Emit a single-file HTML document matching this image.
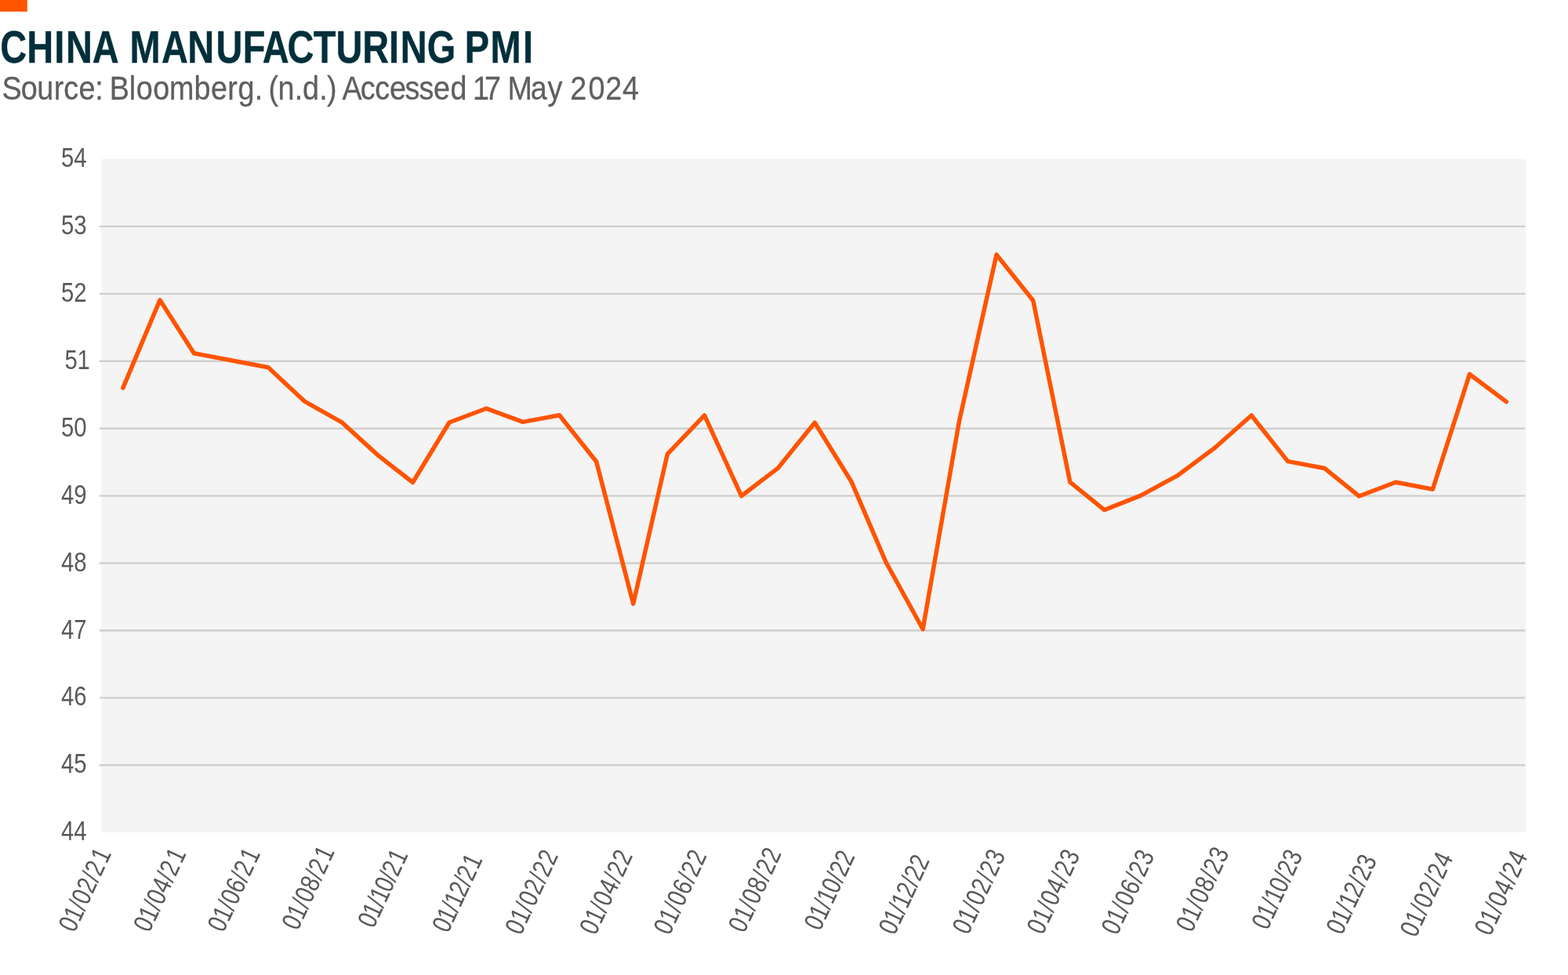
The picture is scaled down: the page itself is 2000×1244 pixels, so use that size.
<!DOCTYPE html>
<html lang="en">
<head>
<meta charset="utf-8">
<title>China Manufacturing PMI</title>
<style>
html,body{margin:0;padding:0;background:#fff;}
body{width:2000px;height:1244px;overflow:hidden;}
svg{display:block;}
text{font-family:"Liberation Sans",sans-serif;}
.title{font-weight:bold;fill:#012f3a;stroke:#012f3a;stroke-width:0.4px;stroke-linejoin:round;}
.sub{fill:#5f5f5f;stroke:#5f5f5f;stroke-width:0.3px;stroke-linejoin:round;}
.lab{fill:#595959;}
</style>
</head>
<body>
<svg width="2000" height="1244" viewBox="0 0 2000 1244">
<desc>CHINA MANUFACTURING PMI. Source: Bloomberg. (n.d.) Accessed 17 May 2024</desc>
<rect x="0" y="0" width="2000" height="1244" fill="#ffffff"/>
<rect x="0" y="0" width="34.8" height="14.8" fill="#ff5400"/>
<text class="title" font-size="58.1" xml:space="preserve" transform="translate(0,79.55) scale(0.8081,1)" x="0.28 42.27 85.79 104.02 145.81 187.77 204.68 254.89 296.19 340.88 383.17 414.39 453.68 494.79 530.33 571.89 613.68 632.03 674.19 719.39 733.40 774.19 825.47" y="0">CHINA MANUFACTURING PMI</text>
<text class="sub" font-size="43.2" xml:space="preserve" transform="translate(0,126.65) scale(0.8732,1)" x="2.95 30.73 54.21 78.74 93.01 114.98 138.93 150.93 160.16 188.68 198.97 223.62 247.24 283.55 308.01 332.42 347.48 372.02 384.02 392.26 405.98 430.23 442.00 466.53 477.49 491.88 499.81 526.55 547.74 569.13 591.50 612.00 633.38 657.88 681.90 690.65 707.76 731.79 741.49 775.01 799.92 821.52 832.90 859.36 884.44 909.37" y="0">Source: Bloomberg. (n.d.) Accessed 17 May 2024</text>
<rect x="129.2" y="202.8" width="1817.20" height="859.20" fill="#f4f4f4"/>
<g stroke="#cfcfcd" stroke-width="2.4" fill="none">
<line x1="126.8" y1="976.28" x2="1945.4" y2="976.28"/>
<line x1="126.8" y1="890.36" x2="1945.4" y2="890.36"/>
<line x1="126.8" y1="804.44" x2="1945.4" y2="804.44"/>
<line x1="126.8" y1="718.52" x2="1945.4" y2="718.52"/>
<line x1="126.8" y1="632.60" x2="1945.4" y2="632.60"/>
<line x1="126.8" y1="546.68" x2="1945.4" y2="546.68"/>
<line x1="126.8" y1="460.76" x2="1945.4" y2="460.76"/>
<line x1="126.8" y1="374.84" x2="1945.4" y2="374.84"/>
<line x1="126.8" y1="288.92" x2="1945.4" y2="288.92"/>
</g>
<polyline points="156.90,494.93 203.96,382.83 247.42,450.77 294.78,459.76 342.09,468.80 388.50,512.11 435.66,538.59 482.12,580.85 526.48,615.52 573.04,538.99 620.10,521.20 666.96,538.39 713.52,529.80 760.68,588.94 807.74,770.37 851.30,579.45 898.56,529.90 945.72,632.80 992.18,597.43 1039.24,539.19 1086.10,614.82 1130.06,717.32 1177.12,802.74 1223.38,537.89 1271.04,324.89 1317.80,383.43 1364.86,615.22 1408.62,650.58 1454.78,632.40 1502.64,606.32 1550.00,570.96 1596.16,529.95 1642.62,588.64 1689.68,597.53 1733.64,633.05 1780.20,615.22 1827.46,624.21 1874.52,477.44 1921.38,512.61" fill="none" stroke="#ff5400" stroke-width="5.5" stroke-linecap="round" stroke-linejoin="round"/>
<g class="lab" font-size="34.5" text-anchor="end">
<text transform="translate(110.5,1071.75) scale(0.85,1)">44</text>
<text transform="translate(110.5,986.38) scale(0.85,1)">45</text>
<text transform="translate(110.5,900.46) scale(0.85,1)">46</text>
<text transform="translate(110.5,814.54) scale(0.85,1)">47</text>
<text transform="translate(110.5,728.97) scale(0.85,1)">48</text>
<text transform="translate(110.5,643.05) scale(0.85,1)">49</text>
<text transform="translate(110.5,556.78) scale(0.85,1)">50</text>
<text text-anchor="start" transform="translate(110.5,470.86) scale(0.85,1)" x="-32.85 -14.08" y="0">51</text>
<text transform="translate(110.5,384.94) scale(0.85,1)">52</text>
<text transform="translate(110.5,299.02) scale(0.85,1)">53</text>
<text transform="translate(110.5,212.85) scale(0.85,1)">54</text>
</g>
<g class="lab" font-size="34.5">
<text transform="translate(94.96,1191.17) rotate(-65.0) scale(0.81,1)" x="0.13 18.80 37.86 48.09 67.54 87.37 97.60 119.99" y="0">01/02/21</text>
<text transform="translate(190.46,1191.17) rotate(-65.0) scale(0.81,1)" x="0.13 18.80 37.86 48.09 67.54 87.37 97.60 119.99" y="0">01/04/21</text>
<text transform="translate(284.96,1191.17) rotate(-65.0) scale(0.81,1)" x="0.13 18.80 37.86 48.09 67.54 87.37 97.60 119.99" y="0">01/06/21</text>
<text transform="translate(379.76,1188.67) rotate(-65.0) scale(0.81,1)" x="0.13 18.80 37.86 48.09 67.54 87.37 97.60 119.99" y="0">01/08/21</text>
<text transform="translate(476.66,1185.43) rotate(-65.0) scale(0.81,1)" x="-0.46 17.08 35.27 43.87 61.41 80.33 89.64 110.36" y="0">01/10/21</text>
<text transform="translate(571.76,1191.43) rotate(-65.0) scale(0.81,1)" x="-0.46 17.08 35.27 43.87 61.41 80.33 89.64 110.36" y="0">01/12/21</text>
<text transform="translate(664.23,1194.93) rotate(-65.0) scale(0.81,1)" x="0.49 19.84 39.43 50.21 70.36 90.75 101.53 121.69" y="0">01/02/22</text>
<text transform="translate(759.43,1194.93) rotate(-65.0) scale(0.81,1)" x="0.49 19.84 39.43 50.21 70.36 90.75 101.53 121.69" y="0">01/04/22</text>
<text transform="translate(853.93,1194.93) rotate(-65.0) scale(0.81,1)" x="0.49 19.84 39.43 50.21 70.36 90.75 101.53 121.69" y="0">01/06/22</text>
<text transform="translate(949.13,1192.13) rotate(-65.0) scale(0.81,1)" x="0.49 19.84 39.43 50.21 70.36 90.75 101.53 121.69" y="0">01/08/22</text>
<text transform="translate(1045.93,1188.90) rotate(-65.0) scale(0.81,1)" x="-0.09 18.15 36.89 46.02 64.26 83.75 93.64 112.64" y="0">01/10/22</text>
<text transform="translate(1141.13,1194.50) rotate(-65.0) scale(0.81,1)" x="-0.09 18.15 36.89 46.02 64.26 83.75 93.64 112.64" y="0">01/12/22</text>
<text transform="translate(1234.73,1194.23) rotate(-65.0) scale(0.81,1)" x="0.49 19.84 39.43 50.21 70.36 90.75 101.53 121.69" y="0">01/02/23</text>
<text transform="translate(1329.93,1194.23) rotate(-65.0) scale(0.81,1)" x="0.49 19.84 39.43 50.21 70.36 90.75 101.53 121.69" y="0">01/04/23</text>
<text transform="translate(1424.83,1194.93) rotate(-65.0) scale(0.81,1)" x="0.49 19.84 39.43 50.21 70.36 90.75 101.53 121.69" y="0">01/06/23</text>
<text transform="translate(1520.03,1191.43) rotate(-65.0) scale(0.81,1)" x="0.49 19.84 39.43 50.21 70.36 90.75 101.53 121.69" y="0">01/08/23</text>
<text transform="translate(1616.83,1187.90) rotate(-65.0) scale(0.81,1)" x="-0.09 18.15 36.89 46.02 64.26 83.75 93.64 112.64" y="0">01/10/23</text>
<text transform="translate(1711.73,1194.10) rotate(-65.0) scale(0.81,1)" x="-0.09 18.15 36.89 46.02 64.26 83.75 93.64 112.64" y="0">01/12/23</text>
<text transform="translate(1805.73,1197.73) rotate(-65.0) scale(0.81,1)" x="0.49 19.84 39.43 50.21 70.36 90.75 101.53 121.69" y="0">01/02/24</text>
<text transform="translate(1900.93,1195.93) rotate(-65.0) scale(0.81,1)" x="0.49 19.84 39.43 50.21 70.36 90.75 101.53 121.69" y="0">01/04/24</text>
</g>
</svg>
</body>
</html>
